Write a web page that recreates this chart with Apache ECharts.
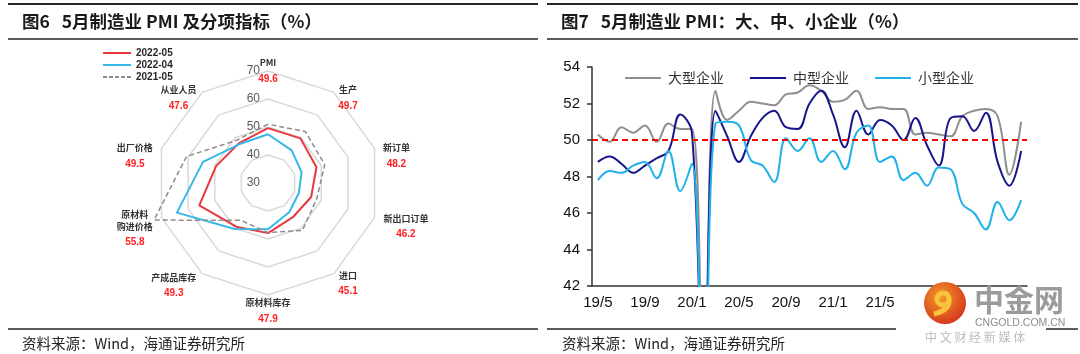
<!DOCTYPE html>
<html>
<head>
<meta charset="utf-8">
<script src="https://cdn.jsdelivr.net/npm/echarts@6/dist/echarts.min.js"></script>
<style>
  html, body { margin: 0; padding: 0; background: #fff; }
  #chart { width: 1080px; height: 354px; }
</style>
</head>
<body>
<div id="chart"></div>
<script>
// 图6: radar indicators, listed clockwise from the top
const radarNames = ['PMI', '生产', '新订单', '新出口订单', '进口', '原材料库存', '产成品库存', '原材料\n购进价格', '出厂价格', '从业人员'];
const pmi2205 = [49.6, 49.7, 48.2, 46.2, 45.1, 47.9, 49.3, 55.8, 49.5, 47.6];
const pmi2204 = [47.4, 44.4, 42.6, 41.6, 42.9, 46.5, 50.3, 64.2, 54.4, 47.2];
const pmi2105 = [51.0, 52.7, 51.3, 48.3, 50.9, 47.7, 46.5, 72.8, 60.6, 48.9];
const radarTicks = [30, 70];
// extra top padding per label, nudges each name block down to where the source put it
const namePad = [20, 28, 24, 16, 10, 20, 14, 20, 24, 28];

// 图7: PMI by enterprise size, 2019/5 - 2022/5
const months = ['19/5', '19/6', '19/7', '19/8', '19/9', '19/10', '19/11', '19/12',
  '20/1', '20/2', '20/3', '20/4', '20/5', '20/6', '20/7', '20/8', '20/9', '20/10', '20/11', '20/12',
  '21/1', '21/2', '21/3', '21/4', '21/5', '21/6', '21/7', '21/8', '21/9', '21/10', '21/11', '21/12',
  '22/1', '22/2', '22/3', '22/4', '22/5'];
const large = [50.3, 49.9, 50.7, 50.4, 50.8, 49.9, 50.9, 50.6, 50.6, 36.5, 52.7, 51.1,
  51.6, 52.1, 52.0, 51.9, 52.5, 52.6, 53.0, 52.7, 52.1, 52.2, 52.7, 51.7,
  51.8, 51.7, 51.7, 50.3, 50.4, 50.3, 50.2, 51.3, 51.6, 51.7, 51.3, 48.1, 51.0];
const medium = [48.8, 49.1, 48.7, 48.2, 48.6, 49.0, 49.4, 51.4, 50.4, 35.5, 51.6, 50.2,
  48.8, 50.2, 51.2, 51.6, 50.7, 50.6, 52.0, 52.7, 51.4, 49.6, 51.6, 50.3,
  51.1, 50.8, 50.0, 51.2, 49.7, 48.6, 51.2, 51.3, 50.5, 51.5, 48.8, 47.5, 49.4];
const small = [47.8, 48.3, 48.2, 48.6, 48.8, 47.9, 49.4, 47.2, 48.7, 34.1, 50.9, 51.0,
  50.8, 48.9, 48.6, 47.7, 50.1, 49.4, 50.1, 48.8, 49.4, 48.4, 50.4, 50.8,
  48.8, 49.1, 47.8, 48.2, 47.5, 48.5, 48.4, 46.5, 46.0, 45.1, 46.6, 45.6, 46.7];
const yTicks = [42, 54, 2];

const chart = echarts.init(document.getElementById('chart'));

// echarts lays radar axes out counter-clockwise, so flip the order
const order = [0, 9, 8, 7, 6, 5, 4, 3, 2, 1];
const pick = arr => order.map(i => arr[i]);

const nameRich = {};
[2, 3, 4, 5].forEach(n => {
  nameRich['n' + n] = { width: n * 9.5, align: 'center', fontSize: 9, lineHeight: 12, color: '#333', fontWeight: 'bold', fontFamily: '"Noto Sans CJK SC"' };
  nameRich['v' + n] = { width: n * 9.5, align: 'center', fontSize: 10, lineHeight: 20, color: '#ff1f1f', fontWeight: 'bold', fontFamily: 'Arial' };
});

const indicators = order.map((i, k) => {
  const ind = {
    name: radarNames[i], min: radarTicks[0], max: radarTicks[1],
    nameMoveOverlap: false,
    nameTextStyle: { verticalAlign: 'middle', padding: [namePad[i], 0, 0, 0] }
  };
  if (k === 0) {
    ind.axisLabel = { show: true, color: '#595959', fontSize: 12, fontFamily: 'Arial', margin: 8 };
  }
  return ind;
});

const dashIcon = 'path://M0,0h4v2h-4z M6,0h4v2h-4z M12,0h4v2h-4z M18,0h4v2h-4z M24,0h4v2h-4z';
const lineIcon = 'path://M0,0h28v2h-28z';

const rule = (x1, y1, x2, y2, w) => ({
  type: 'line', silent: true, z: 50,
  shape: { x1, y1, x2, y2 },
  style: { stroke: '#262626', lineWidth: w }
});
const txt = (x, y, text, font, fill) => ({
  type: 'text', x, y, silent: true, z: 101,
  style: { text, font, fill, verticalAlign: 'middle' }
});

const option = {
  animation: false,
  backgroundColor: '#fff',
  legend: [{
    orient: 'vertical',
    left: 98,
    top: 43,
    itemWidth: 28,
    itemHeight: 2,
    itemGap: 2,
    textStyle: { fontSize: 10, fontWeight: 'bold', color: '#262626', fontFamily: 'Arial' },
    data: [
      { name: '2022-05', icon: lineIcon },
      { name: '2022-04', icon: lineIcon },
      { name: '2021-05', icon: dashIcon }
    ]
  }, {
    left: 620,
    top: 66,
    itemWidth: 36,
    itemHeight: 2,
    itemGap: 26,
    icon: 'path://M0,0h36v2h-36z',
    textStyle: { fontSize: 14, color: '#333', fontFamily: '"Noto Sans CJK SC"', padding: [0, 0, 0, 2] },
    data: ['大型企业', '中型企业', '小型企业']
  }],
  radar: {
    center: [268, 183],
    radius: 112,
    shape: 'polygon',
    splitNumber: 4,
    indicator: indicators,
    nameGap: 8,
    axisName: {
      rich: nameRich,
      formatter: (name) => {
        const i = radarNames.indexOf(name);
        const n = Math.max(...name.split('\n').map(s => s.length));
        return '{n' + n + '|' + name + '}\n{v' + n + '|' + pmi2205[i].toFixed(1) + '}';
      }
    },
    axisLine: { show: false },
    axisTick: { show: false },
    axisLabel: { show: false },
    splitLine: { lineStyle: { color: '#d9d9d9', width: 1.5 } },
    splitArea: { show: false }
  },
  grid: { left: 592, top: 67, width: 435, height: 219 },
  xAxis: {
    type: 'category',
    data: months,
    boundaryGap: true,
    axisLine: { lineStyle: { color: '#333', width: 1.5 } },
    axisTick: { interval: 3, length: 5, lineStyle: { color: '#333', width: 1.5 } },
    axisLabel: { interval: 3, fontSize: 15, color: '#111', fontFamily: 'Arial', margin: 9 }
  },
  yAxis: {
    type: 'value',
    min: yTicks[0],
    max: yTicks[1],
    interval: yTicks[2],
    axisLine: { show: true, lineStyle: { color: '#333', width: 1.5 } },
    axisTick: { show: true, length: 5, lineStyle: { color: '#333', width: 1.5 } },
    axisLabel: { fontSize: 15, color: '#111', fontFamily: 'Arial', margin: 12 },
    splitLine: { show: false }
  },
  series: [{
    type: 'radar',
    symbol: 'none',
    data: [{
      name: '2022-05', value: pick(pmi2205),
      lineStyle: { color: '#e8383d', width: 2 }, itemStyle: { color: '#e8383d' }
    }, {
      name: '2022-04', value: pick(pmi2204),
      lineStyle: { color: '#36b8e6', width: 2 }, itemStyle: { color: '#36b8e6' }
    }, {
      name: '2021-05', value: pick(pmi2105),
      lineStyle: { color: '#8c8c8c', width: 1.5, type: [5, 3] }, itemStyle: { color: '#8c8c8c' }
    }]
  }, {
    name: '大型企业', type: 'line', data: large, smooth: 0.4, symbol: 'none',
    lineStyle: { color: '#8f8f8f', width: 2 }, itemStyle: { color: '#8f8f8f' },
    markLine: {
      silent: true, symbol: ['none', 'none'], label: { show: false },
      lineStyle: { color: '#ff0000', type: [6, 4], width: 2 },
      data: [{ yAxis: 50 }]
    }
  }, {
    name: '中型企业', type: 'line', data: medium, smooth: 0.4, symbol: 'none',
    lineStyle: { color: '#16168a', width: 2 }, itemStyle: { color: '#16168a' }
  }, {
    name: '小型企业', type: 'line', data: small, smooth: 0.4, symbol: 'none',
    lineStyle: { color: '#1fb1e8', width: 2 }, itemStyle: { color: '#1fb1e8' }
  }],
  graphic: [
    rule(8, 4, 538, 4, 2), rule(8, 39, 538, 39, 1.5), rule(8, 329, 538, 329, 1.5),
    rule(547, 4, 1078, 4, 2), rule(547, 39, 1078, 39, 1.5), rule(547, 329, 1078, 329, 1.5),
    txt(22, 21, '图6   5月制造业 PMI 及分项指标（%）', 'bold 17.5px "Noto Sans CJK SC"', '#1a1a1a'),
    txt(561, 21, '图7   5月制造业 PMI：大、中、小企业（%）', 'bold 17.5px "Noto Sans CJK SC"', '#1a1a1a'),
    txt(22, 343, '资料来源：Wind，海通证券研究所', '14.5px "Noto Sans CJK SC"', '#222'),
    txt(562, 343, '资料来源：Wind，海通证券研究所', '14.5px "Noto Sans CJK SC"', '#222'),
    // watermark
    { type: 'rect', silent: true, z: 100, shape: { x: 896, y: 289, width: 150, height: 65, r: 8 }, style: { fill: '#fff' } },
    { type: 'circle', silent: true, z: 101, shape: { cx: 945, cy: 303, r: 21 },
      style: { fill: new echarts.graphic.RadialGradient(0.4, 0.35, 0.8, [{ offset: 0, color: '#f39a2a' }, { offset: 1, color: '#cf2419' }]) } },
    { type: 'arc', silent: true, z: 102, shape: { cx: 943, cy: 299, r: 6, startAngle: 0, endAngle: Math.PI * 2 },
      style: { stroke: '#f8c53a', lineWidth: 5, fill: 'none' } },
    { type: 'bezierCurve', silent: true, z: 102, shape: { x1: 949, y1: 300, x2: 934, y2: 314, cpx1: 950, cpy1: 310 },
      style: { stroke: '#f8c53a', lineWidth: 5, fill: 'none' } },
    txt(974, 300, '中金网', 'bold 30px "Noto Sans CJK SC"', '#9b9b9b'),
    txt(975, 323, 'CNGOLD.COM.CN', '10.5px Arial', '#8c8c8c'),
    txt(925, 337, '中 文 财 经 新 媒 体', '12px "Noto Sans CJK SC"', '#bdbdbd')
  ]
};

chart.setOption(option);
</script>
</body>
</html>
